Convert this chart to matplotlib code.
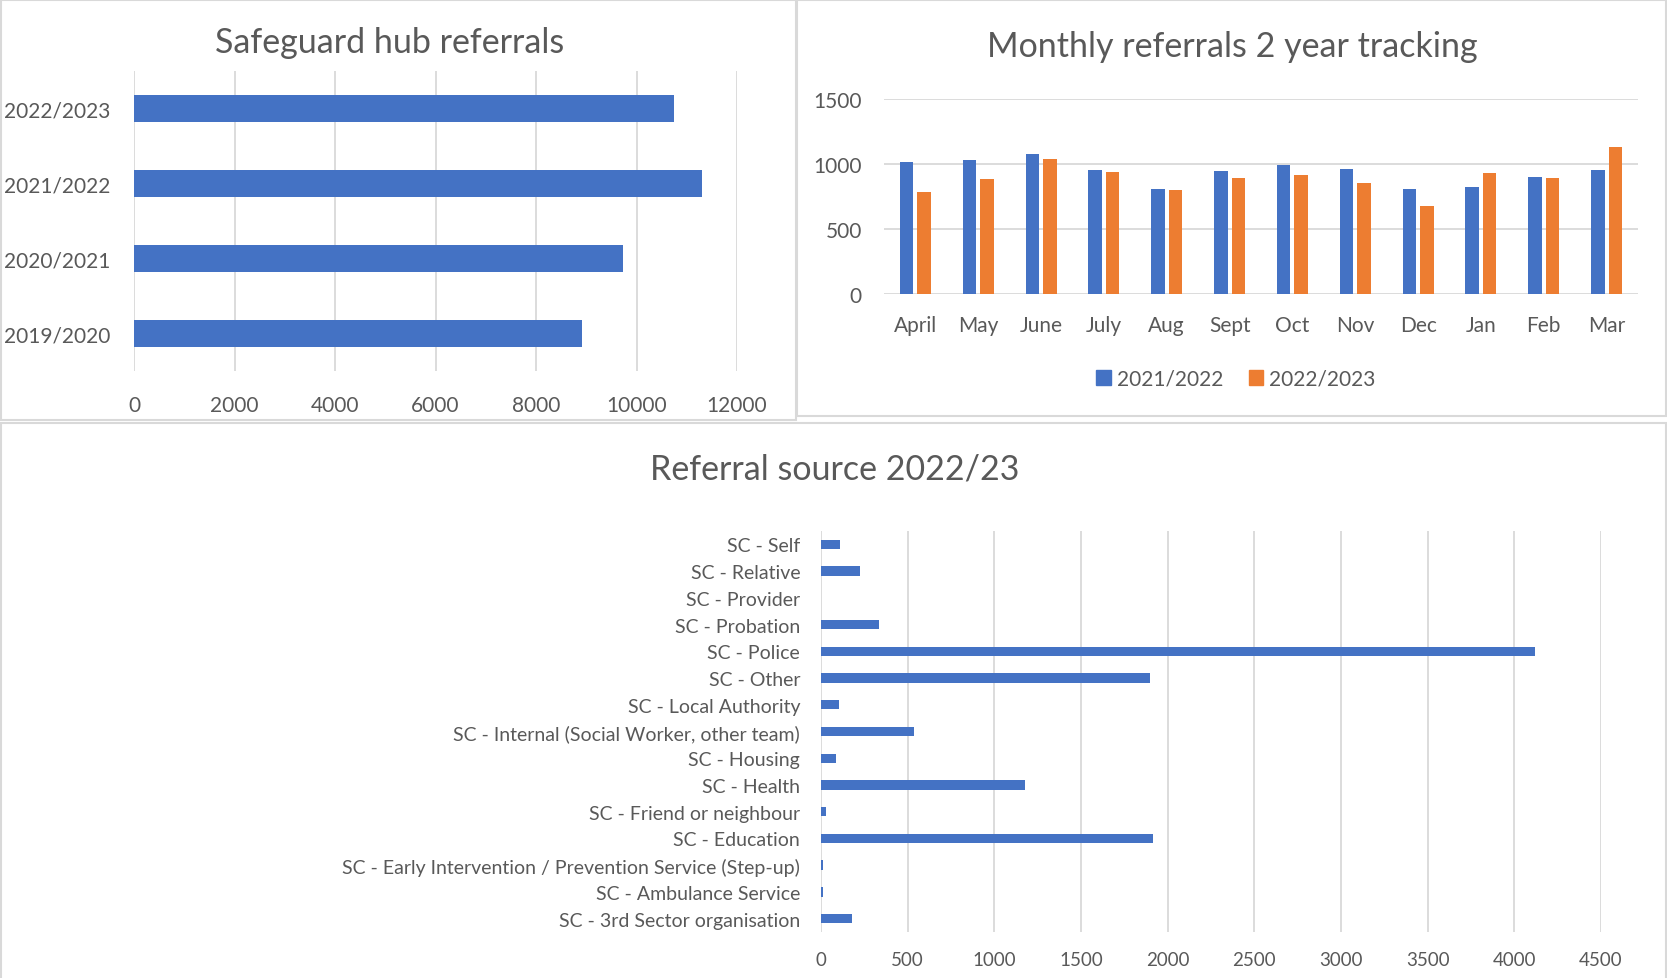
import matplotlib
matplotlib.use("Agg")
import matplotlib.pyplot as plt
from matplotlib.patches import Rectangle, Patch
import numpy as np

plt.rcParams['font.family'] = ['Lato', 'DejaVu Sans']

# data
years = ["2019/2020", "2020/2021", "2021/2022", "2022/2023"]
hub_referrals = [8920, 9730, 11300, 10750]

months = ["April", "May", "June", "July", "Aug", "Sept", "Oct", "Nov", "Dec", "Jan", "Feb", "Mar"]
monthly_2122 = [1018, 1033, 1079, 951, 810, 949, 990, 962, 810, 826, 903, 951]
monthly_2223 = [787, 882, 1041, 936, 797, 890, 918, 856, 674, 928, 890, 1128]
series_labels = ["2021/2022", "2022/2023"]

sources = ["SC - Self", "SC - Relative", "SC - Provider", "SC - Probation", "SC - Police",
           "SC - Other", "SC - Local Authority", "SC - Internal (Social Worker, other team)",
           "SC - Housing", "SC - Health", "SC - Friend or neighbour", "SC - Education",
           "SC - Early Intervention / Prevention Service (Step-up)",
           "SC - Ambulance Service", "SC - 3rd Sector organisation"]
source_counts = [108, 224, 2, 334, 4120, 1898, 102, 534, 87, 1177, 29, 1917, 10, 10, 179]

BLUE = "#4472C4"
ORANGE = "#ED7D31"
TXT = "#595959"
GRID = "#D9D9D9"

W, H = 1667, 979
fig = plt.figure(figsize=(W / 100, H / 100), dpi=100)


def px_axes(left, top, right, bottom):
    return fig.add_axes([left / W, 1 - bottom / H, (right - left) / W, (bottom - top) / H])


def frame(left, top, right, bottom):
    fig.patches.append(Rectangle((left / W, 1 - bottom / H), (right - left) / W, (bottom - top) / H,
                                 transform=fig.transFigure, fill=False, edgecolor=GRID, lw=1.5))


def clean(ax):
    for s in ax.spines.values():
        s.set_visible(False)
    ax.tick_params(length=0, colors=TXT)
    ax.set_axisbelow(True)


# panel borders
frame(1, 1, 796, 421)
frame(797, 1, 1666, 417)
frame(1, 424, 1666, 990)

# top-left: safeguard hub referrals
ax1 = px_axes(134, 72, 737, 372)
clean(ax1)
ax1.barh(np.arange(len(years)), hub_referrals, height=0.35, color=BLUE)
ax1.set_xlim(0, 12000)
ax1.set_ylim(-0.5, len(years) - 0.5)
ax1.set_xticks(range(0, 12001, 2000))
ax1.set_yticks(np.arange(len(years)))
ax1.set_yticklabels(years)
ax1.xaxis.grid(True, color=GRID, lw=1.3)
ax1.tick_params(axis='x', labelsize=15, pad=17)
ax1.tick_params(axis='y', labelsize=15, pad=17)
fig.text(390 / W, 1 - 53 / H, "Safeguard hub referrals", ha='center', va='baseline',
         fontsize=24.5, color=TXT)

# top-right: monthly referrals
ax2 = px_axes(884, 100, 1638, 295)
clean(ax2)
x = np.arange(len(months))
ax2.bar(x - 0.14, monthly_2122, width=0.215, color=BLUE)
ax2.bar(x + 0.14, monthly_2223, width=0.215, color=ORANGE)
ax2.set_xlim(-0.5, len(months) - 0.5)
ax2.set_ylim(0, 1500)
ax2.set_yticks([0, 500, 1000, 1500])
ax2.set_xticks(x)
ax2.set_xticklabels(months)
ax2.yaxis.grid(True, color=GRID, lw=1.3)
ax2.tick_params(axis='x', labelsize=15, pad=15)
ax2.tick_params(axis='y', labelsize=15, pad=16)
fig.text(1232 / W, 1 - 57 / H, "Monthly referrals 2 year tracking", ha='center', va='baseline',
         fontsize=24.5, color=TXT)
handles = [Patch(color=BLUE, label=series_labels[0]), Patch(color=ORANGE, label=series_labels[1])]
fig.legend(handles=handles, loc='center', bbox_to_anchor=(1236 / W, 1 - 380 / H), ncol=2,
           frameon=False, fontsize=15, labelcolor=TXT, handlelength=0.7, handleheight=0.7,
           handletextpad=0.3, columnspacing=1.2)

# bottom: referral source
ax3 = px_axes(821, 532, 1601, 933)
clean(ax3)
y = np.arange(len(sources))
ax3.barh(y, source_counts, height=0.35, color=BLUE)
ax3.set_xlim(0, 4500)
ax3.set_ylim(len(sources) - 0.5, -0.5)
ax3.set_xticks(range(0, 4501, 500))
ax3.set_yticks(y)
ax3.set_yticklabels(sources)
ax3.xaxis.grid(True, color=GRID, lw=1.3)
ax3.tick_params(axis='x', labelsize=13.5, pad=14)
ax3.tick_params(axis='y', labelsize=14, pad=15)
fig.text(835 / W, 1 - 480 / H, "Referral source 2022/23", ha='center', va='baseline',
         fontsize=24.5, color=TXT)

fig.savefig("out.png", dpi=100, facecolor='white')
